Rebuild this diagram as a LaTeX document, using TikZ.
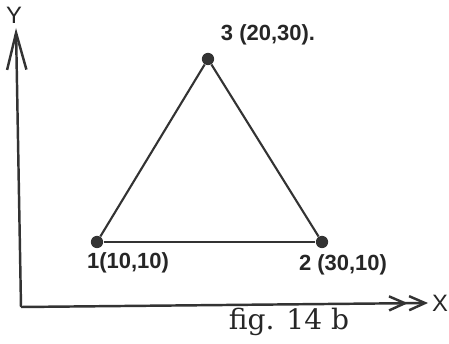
\documentclass[tikz,border=0pt]{standalone}
\usepackage{fontspec}
\usepackage{tikz}
\usetikzlibrary{arrows.meta}
\newfontfamily\lblfont{Liberation Sans}
\newfontfamily\capfont{DejaVu Serif}

\tikzset{
  knot/.style={circle, fill=black!80, inner sep=0pt, minimum size=7pt},
  klabel/.style={font=\lblfont\bfseries\fontsize{12.5}{14}\selectfont, text=black!85, inner sep=0pt},
  axlabel/.style={font=\lblfont\fontsize{13.5}{15}\selectfont, text=black!85, inner sep=0pt},
  axis/.style={line width=1.4pt, draw=black!80},
  edge/.style={line width=1.2pt, draw=black!80}
}

\begin{document}
\begin{tikzpicture}[x=0.2mm, y=-0.2mm]
            \useasboundingbox (0,0) rectangle (449,344);

            % axes
            \coordinate (O) at (21,307);
            \coordinate (xend) at (428,303);
            \coordinate (yend) at (16,28);
            \draw[axis, -{Straight Barb[length=21pt,width=11pt]}] (O) -- (yend);
            \draw[axis, -{Straight Barb[length=9pt,width=8pt]Straight Barb[length=9pt,width=8pt]}] (O) -- (xend);
            \node[axlabel] (ylab) at (14,15) {Y};
            \node[axlabel] (xlab) at (440,303) {X};

            % nodes of the element
            \node[knot] (n1) at (97,242) {};
            \node[klabel] at (128,263) {1(10,10)};
            \node[knot] (n2) at (322,242) {};
            \node[klabel] at (343,265) {2 (30,10)};
            \node[knot] (n3) at (208,59) {};
            \node[klabel] at (268,35) {3 (20,30).};

            \draw[edge] (n1) -- (n2); % 1-2
            \draw[edge] (n2) -- (n3); % 2-3
            \draw[edge] (n3) -- (n1); % 3-1

            \node[font=\capfont\fontsize{16}{19}\selectfont, text=black!85, inner sep=0pt] (cap) at (289,322) {fig. 14 b};
        \end{tikzpicture}
\end{document}
